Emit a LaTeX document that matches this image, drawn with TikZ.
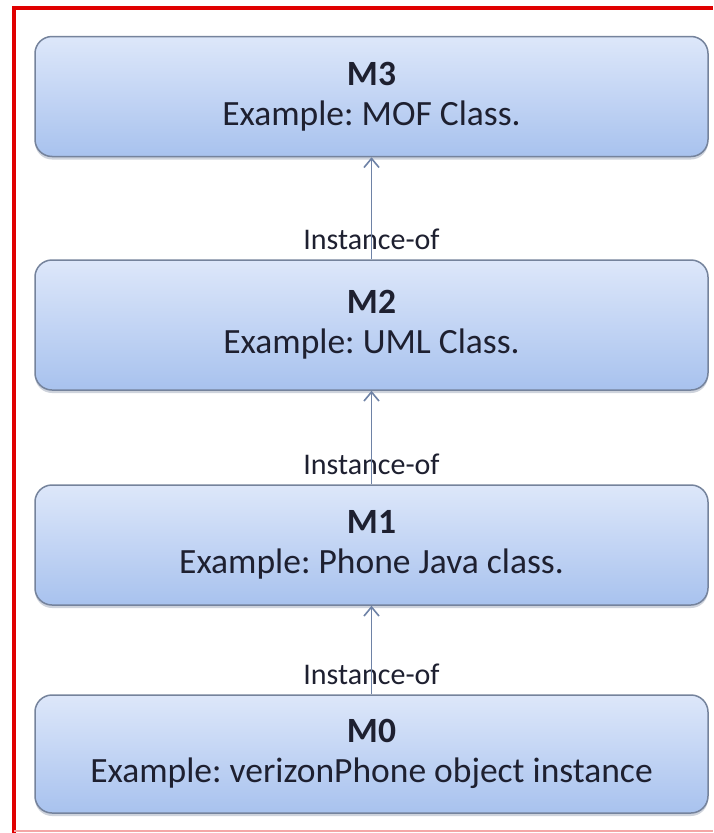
\documentclass[tikz,border=0pt]{standalone}
\usepackage{fontspec}
\setmainfont{Carlito}
\usetikzlibrary{arrows.meta,shadows}
\definecolor{frame}{HTML}{E00000}
\definecolor{boxtop}{HTML}{DDE7FA}
\definecolor{boxbot}{HTML}{A8C2EE}
\definecolor{boxline}{HTML}{75839C}
\definecolor{inkdark}{HTML}{1E2030}
\definecolor{linkline}{HTML}{6E82A6}
\tikzset{
  level/.style={draw=boxline, line width=1.5pt, rounded corners=17pt,
    top color=boxtop, bottom color=boxbot, minimum width=673pt,
    minimum height=120pt, align=center, text=inkdark,
    font=\fontsize{35.5}{40}\selectfont\frenchspacing,
    drop shadow={shadow xshift=0pt, shadow yshift=-3pt, opacity=0.35, fill=boxline}},
  inst/.style={anchor=base, text=inkdark, font=\fontsize{30}{34}\selectfont},
  link/.style={draw=linkline, line width=1.6pt, -{Straight Barb[length=9pt,width=15pt]}}
}
\begin{document}
\begin{tikzpicture}[x=1pt,y=-1pt]
    \useasboundingbox (0,0) rectangle (713,833);
    \fill[white] (0,0) rectangle (713,833);

    % RED FRAME
    \draw[frame, line width=4.5pt] (14,833) -- (14,8) -- (713,8);
    \draw[frame!35, line width=1.2pt] (14,831) -- (713,831);

    % META LEVELS
    \node[level] (m3) at (371.5,96.5) {\textbf{M3}\\Example: MOF Class.};
    \node[level, minimum height=130pt] (m2) at (371.5,325) {\textbf{M2}\\Example: UML Class.};
    \node[level] (m1) at (371.5,545) {\textbf{M1}\\Example: Phone Java class.};
    \node[level, minimum height=118pt] (m0) at (371.5,754) {\textbf{M0}\\Example: verizonPhone object instance};

    % INSTANCE-OF LINKS
    \node[inst] (l2) at ([yshift=10pt]m2.north) {Instance-of};
    \node[inst] (l1) at ([yshift=10pt]m1.north) {Instance-of};
    \node[inst] (l0) at ([yshift=10pt]m0.north) {Instance-of};
    \draw[link] (m2.north) -- (m3.south);
    \draw[link] (m1.north) -- (m2.south);
    \draw[link] (m0.north) -- (m1.south);

\end{tikzpicture}
\end{document}
